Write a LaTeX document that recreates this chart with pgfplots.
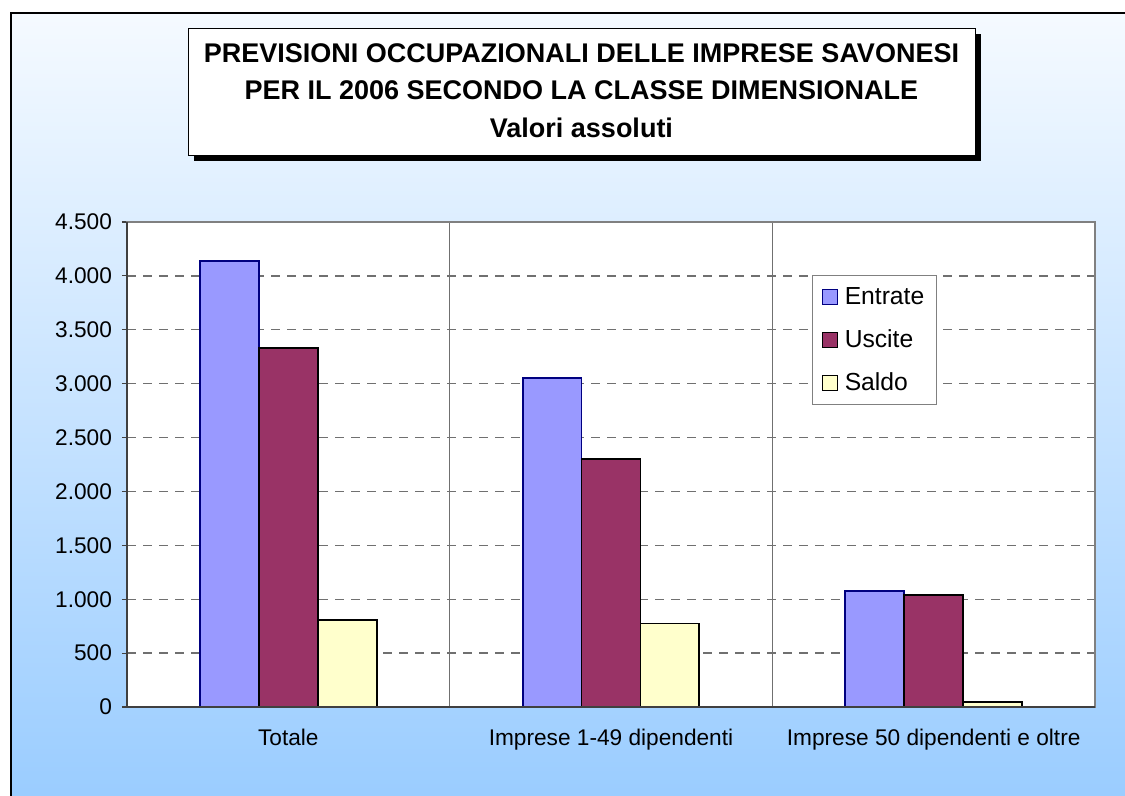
\documentclass[border=0pt]{standalone}
\usepackage{fontspec}
\setmainfont{Liberation Sans}
\usepackage{pgfplots}
\pgfplotsset{compat=1.18}

\definecolor{entr}{HTML}{9999FF}
\definecolor{entrb}{HTML}{000080}
\definecolor{usc}{HTML}{993366}
\definecolor{sal}{HTML}{FFFFCC}
\definecolor{bgtop}{HTML}{F5FAFF}
\definecolor{bgmid}{HTML}{CFE5FD}
\definecolor{bgbot}{HTML}{99CCFF}
\definecolor{gridc}{HTML}{707070}
\definecolor{axc}{HTML}{404040}

\pgfplotstableread{
x entrate uscite saldo
0 4140 3333 807
1 3056 2299 775
2 1079 1036 46
}\datatable

\begin{document}
\begin{tikzpicture}
\useasboundingbox (0,0) rectangle (843.75pt,597pt);
\fill[white] (0,0) rectangle (843.75pt,597pt);
\begin{scope}
\clip (0,0) rectangle (843.75pt,597pt);
\shade[top color=bgtop, middle color=bgmid, bottom color=bgbot] (8.25pt,-10pt) rectangle (860pt,587.25pt);
\draw[line width=1.5pt] (8.25pt,-10pt) -- (8.25pt,587.25pt) -- (860pt,587.25pt);
\end{scope}
% title box with shadow
\fill[black] (145.5pt,476.25pt) rectangle (735.75pt,571.5pt);
\draw[fill=white, line width=0.6pt] (141pt,480.75pt) rectangle (731.25pt,576pt);
\node[font=\fontsize{20.25}{24}\selectfont\bfseries, inner sep=0pt] at (436.1pt,557pt) {PREVISIONI OCCUPAZIONALI DELLE IMPRESE SAVONESI};
\node[font=\fontsize{20.25}{24}\selectfont\bfseries, inner sep=0pt] at (436.1pt,529.5pt) {PER IL 2006 SECONDO LA CLASSE DIMENSIONALE};
\node[font=\fontsize{20.25}{24}\selectfont\bfseries, inner sep=0pt] at (436.1pt,501pt) {Valori assoluti};

\begin{axis}[
  at={(95.25pt,66.75pt)}, anchor=south west,
  scale only axis, width=726pt, height=363.75pt,
  xmin=-0.5, xmax=2.5, ymin=0, ymax=4500,
  axis background/.style={fill=white},
  axis line style={draw=gray, line width=0.9pt},
  tick pos=left, tick align=outside,
  ytick={0,500,...,4500},
  scaled y ticks=false,
  /pgf/number format/1000 sep={.},
  /pgf/number format/assume math mode=true,
  ticklabel style={font=\fontsize{17}{20}\selectfont},
  major tick length=3.75pt,
  minor tick length=4.5pt,
  xtick={0,1,2},
  xticklabels={Totale, Imprese 1-49 dipendenti, Imprese 50 dipendenti e oltre},
  xtick style={draw=none},
  minor xtick={-0.5,0.5,1.5,2.5},
  minor tick style={draw=axc, line width=0.8pt},
  ytick style={draw=axc, line width=0.8pt},
  xticklabel style={yshift=-9pt},
  yticklabel style={xshift=-4pt},
  ymajorgrids, xminorgrids,
  major grid style={draw=gridc, line width=1pt, dash pattern=on 6.75pt off 5.25pt},
  minor grid style={draw=gridc, line width=0.75pt, solid},
  legend style={at={(0.7076,0.8907)}, anchor=north west, draw=gray, fill=white,
    font=\fontsize{18.5}{22}\selectfont, row sep=13.5pt, column sep=3pt,
    inner xsep=7pt, inner ysep=7pt, line width=0.8pt},
  legend cell align=left,
  legend image code/.code={\draw[#1, line width=1pt] (0pt,-5.6pt) rectangle (11.2pt,5.6pt);},
  after end axis/.code={
    \draw[axc, line width=1.2pt] (rel axis cs:0,1) -- (rel axis cs:0,0) -- (rel axis cs:1,0);
  },
]
\addplot[ybar, bar width=0.1827, bar shift=-0.1827, fill=entr, draw=entrb, line width=1.4pt] table[x=x, y=entrate] {\datatable};
\addlegendentry{Entrate}
\addplot[ybar, bar width=0.1827, bar shift=0, fill=usc, draw=black, line width=1.4pt] table[x=x, y=uscite] {\datatable};
\addlegendentry{Uscite}
\addplot[ybar, bar width=0.1827, bar shift=0.1827, fill=sal, draw=black, line width=1.4pt] table[x=x, y=saldo] {\datatable};
\addlegendentry{Saldo}
\end{axis}
\end{tikzpicture}
\end{document}
